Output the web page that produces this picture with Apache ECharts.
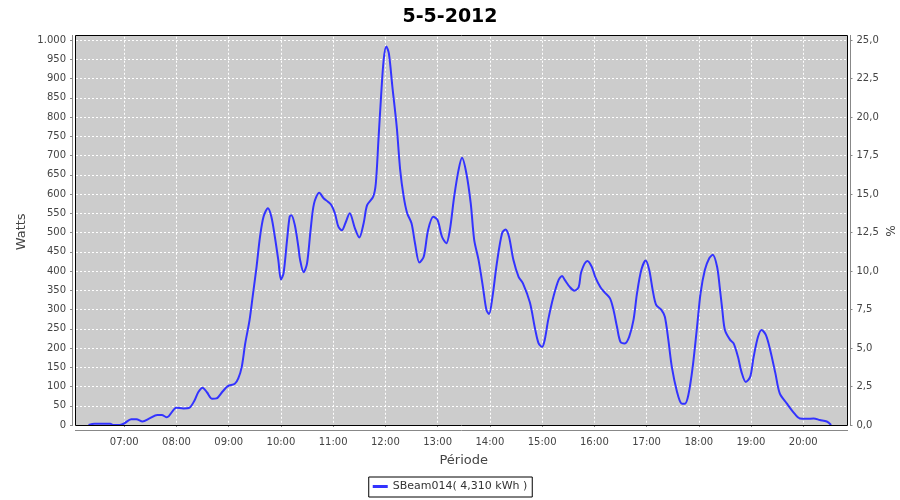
<!DOCTYPE html>
<html><head><meta charset="utf-8">
<script src="https://cdn.jsdelivr.net/npm/echarts@6/dist/echarts.min.js"></script>
<style>html,body{margin:0;padding:0;background:#fff}#c{width:900px;height:500px}</style>
</head><body><div id="c"></div>
<script>
const titleText = '5-5-2012';
const seriesName = 'SBeam014( 4,310 kWh )';
const times = [
 '06:19','06:26','06:44','06:47','06:55',
 '07:00','07:08','07:14','07:21','07:29','07:38','07:43','07:49',
 '08:00','08:08','08:15','08:21','08:25','08:30','08:35','08:41','08:46','08:53','08:59',
 '09:07','09:11','09:15','09:19','09:24','09:28','09:32','09:36','09:40','09:45','09:49','09:53','09:57',
 '10:00','10:03','10:07','10:10','10:12','10:16','10:20','10:22','10:26','10:30','10:34','10:38','10:44','10:49','10:54','10:58',
 '11:02','11:06','11:10','11:14','11:19','11:25','11:30','11:35','11:39','11:46','11:49','11:52','11:55','11:58',
 '12:01','12:04','12:08','12:13','12:17','12:21','12:25','12:30','12:34','12:39','12:44','12:49','12:55',
 '13:00','13:05','13:10','13:14','13:19','13:24','13:28','13:33','13:38','13:42','13:47','13:52','13:56','13:59',
 '14:03','14:08','14:14','14:18','14:22','14:27','14:33','14:38','14:46','14:52','14:56',
 '15:00','15:03','15:07','15:13','15:19','15:23','15:26','15:32','15:37','15:42','15:45','15:52','15:57',
 '16:01','16:07','16:12','16:18','16:22','16:26','16:30','16:35','16:40','16:45','16:49','16:54','16:59',
 '17:03','17:07','17:11','17:17','17:21','17:25','17:29','17:35','17:40','17:44','17:48','17:53','17:58',
 '18:02','18:07','18:12','18:16','18:21','18:24','18:27','18:30','18:36','18:40','18:45','18:49','18:54','18:59',
 '19:03','19:08','19:12','19:17','19:22','19:28','19:33','19:41','19:49','19:56',
 '20:04','20:12','20:19','20:27','20:32'
];
const watts = [
 0,3,3,0,0,
 4,15,15,9,17,26,26,20,
 45,43,45,65,85,97,85,68,69,87,101,
 107,121,151,212,273,342,411,489,541,563,541,489,428,
 378,394,480,541,545,519,463,429,397,420,505,575,603,589,580,571,
 550,515,506,524,550,511,487,524,571,593,628,740,853,948,
 983,965,879,775,662,593,550,524,472,422,437,506,541,
 532,489,472,506,593,662,694,654,576,481,429,359,299,288,
 333,420,498,508,489,429,385,368,318,249,212,
 203,221,273,333,377,387,377,358,349,358,398,426,411,
 385,358,344,329,299,255,216,212,229,273,342,403,427,
 403,351,312,299,281,221,151,86,56,55,78,151,255,
 342,403,433,442,411,359,299,247,221,212,177,138,112,125,
 177,229,247,234,195,134,82,56,32,17,
 16,17,13,9,0
];
const xTickLabels = ['07:00','08:00','09:00','10:00','11:00','12:00','13:00','14:00','15:00','16:00','17:00','18:00','19:00','20:00'];
const wattTicks = [0,50,100,150,200,250,300,350,400,450,500,550,600,650,700,750,800,850,900,950,1000];
const pctTicks = [0,2.5,5,7.5,10,12.5,15,17.5,20,22.5,25];

function toMin(s){ const p = s.split(':'); return (+p[0])*60 + (+p[1]); }
function fmtMin(v){ const h = Math.floor(v/60), m = Math.round(v%60); return (h<10?'0':'')+h+':'+(m<10?'0':'')+m; }
const xTickMins = xTickLabels.map(toMin);
const n = Math.min(times.length, watts.length);
const data = [];
for (let i = 0; i < n; i++) data.push([toMin(times[i]), watts[i]]);

const FONT = 'DejaVu Sans';
const axisGray = '#888888';
const labelColor = '#444444';
const gridLine = { show: true, lineStyle: { color: '#ffffff', type: [2, 2], width: 1 } };

const chart = echarts.init(document.getElementById('c'), null, { renderer: 'canvas' });
chart.setOption({
  animation: false,
  backgroundColor: '#ffffff',
  title: { text: titleText, left: 'center', top: 3,
    textStyle: { fontFamily: FONT, fontSize: 19, fontWeight: 'bold', color: '#000' } },
  legend: { data: [seriesName], left: 'center', top: 477, icon: 'rect', itemWidth: 15, itemHeight: 3,
    borderColor: '#000', borderWidth: 1, padding: [4, 5, 5, 4], borderRadius: 0,
    textStyle: { fontFamily: FONT, fontSize: 11, color: '#333' } },
  grid: { left: 72, right: 44.5, top: 20.75, bottom: 75, containLabel: false, outerBoundsMode: 'none' },
  graphic: [
    { type: 'rect', z: -10, silent: true, shape: { x: 75.5, y: 35.5, width: 772, height: 390 },
      style: { fill: '#cccccc' } },
    { type: 'rect', z: 100, silent: true, shape: { x: 75.5, y: 35.5, width: 772, height: 390 },
      style: { fill: 'none', stroke: '#000', lineWidth: 1 } },
    { type: 'line', z: 100, silent: true, shape: { x1: 72.5, y1: 35, x2: 72.5, y2: 426 }, style: { stroke: axisGray, lineWidth: 1 } },
    { type: 'line', z: 100, silent: true, shape: { x1: 850.5, y1: 35, x2: 850.5, y2: 426 }, style: { stroke: axisGray, lineWidth: 1 } },
    { type: 'line', z: 100, silent: true, shape: { x1: 75, y1: 430.5, x2: 848, y2: 430.5 }, style: { stroke: axisGray, lineWidth: 1 } }
  ],
  xAxis: {
    type: 'value', min: 360, max: 1260, interval: 60, offset: 5,
    name: 'Période', nameLocation: 'middle', nameGap: 24, nameMoveOverlap: false,
    nameTextStyle: { fontFamily: FONT, fontSize: 13, color: '#444' },
    axisLine: { show: false },
    axisTick: { show: true, length: 2, customValues: xTickMins, lineStyle: { color: axisGray } },
    axisLabel: { customValues: xTickMins, margin: 7, fontFamily: FONT, fontSize: 10, color: labelColor,
      formatter: v => (v < 420 || v > 1200) ? '' : fmtMin(v) },
    splitLine: gridLine
  },
  yAxis: [
    { type: 'value', min: 0, max: 1050, interval: 50, position: 'left',
      name: 'Watts', nameLocation: 'middle', nameGap: 44, nameMoveOverlap: false,
      nameTextStyle: { fontFamily: FONT, fontSize: 13, color: '#444', padding: [0, 18, 0, 0] },
      axisLine: { show: false },
      axisTick: { show: true, length: 2, customValues: wattTicks, lineStyle: { color: axisGray } },
      axisLabel: { customValues: wattTicks, margin: 6, fontFamily: FONT, fontSize: 10, color: labelColor,
        formatter: v => v > 1000 ? '' : (v === 1000 ? '1.000' : String(v)) },
      splitLine: gridLine },
    { type: 'value', min: 0, max: 26.25, interval: 1.25, position: 'right', offset: -5,
      name: '%', nameLocation: 'middle', nameGap: 33, nameRotate: -90, nameMoveOverlap: false,
      nameTextStyle: { fontFamily: FONT, fontSize: 12, color: '#444', padding: [0, 0, 0, 16] },
      axisLine: { show: false },
      axisTick: { show: true, length: 2, customValues: pctTicks, lineStyle: { color: axisGray } },
      axisLabel: { customValues: pctTicks, margin: 6, fontFamily: FONT, fontSize: 10, color: labelColor,
        formatter: v => (Math.abs(v * 10 % 25) < 1e-6 && v <= 25) ? v.toFixed(1).replace('.', ',') : '' },
      splitLine: { show: false } }
  ],
  series: [{
    name: seriesName, type: 'line', xAxisIndex: 0, yAxisIndex: 0, data: data,
    showSymbol: false, symbol: 'none', smooth: 0.3, z: 5,
    lineStyle: { color: '#3333ff', width: 2 }, itemStyle: { color: '#3333ff' }
  }]
});
</script>
</body></html>
